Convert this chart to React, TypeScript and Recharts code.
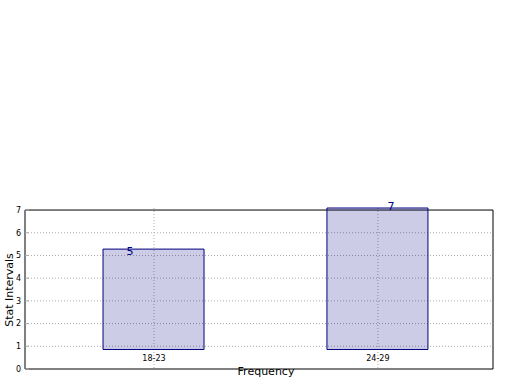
import React from "react";
import { BarChart, Bar, XAxis, YAxis, CartesianGrid, ReferenceArea, ReferenceDot } from "recharts";

const categories = ["18-23", "24-29"];
const barBottoms = [0.86, 0.86];
const barTops = [5.28, 7.09];
const countLabels = [5, 7];
const yTicks = [0, 1, 2, 3, 4, 5, 6, 7];
const xTicks = [0, 1];
const xDomain = [-0.576, 1.514];

// label nudges (px) relative to the category centre
const labelNudge = [-27.5, 9.5];

const data = categories.map((name, i) => ({ pos: i, name, range: [barBottoms[i], barTops[i]] }));

const FONT = "'DejaVu Sans', sans-serif";
const NAVY = "#000080";
const GRID = "#aaa";

const XTick = (props: any) => {
  const { x, y, payload } = props;
  return (
    <text x={x} y={y - 8} textAnchor="middle" fontSize={8} fill="#000" fontFamily={FONT}>
      {categories[payload.value]}
    </text>
  );
};

export default function App() {
  return (
    <div style={{ position: "absolute", left: 0, top: 0, width: 520, height: 390, fontFamily: FONT, background: "#fff" }}>
      <BarChart width={520} height={390} data={data} margin={{ top: 208, right: 27, bottom: 0, left: 0 }}>
        <CartesianGrid
          stroke={GRID}
          strokeDasharray="1 2"
          horizontalValues={yTicks.slice(1, -1)}
          verticalValues={xTicks}
        />
        <XAxis
          dataKey="pos"
          type="number"
          domain={xDomain}
          ticks={xTicks}
          interval={0}
          axisLine={false}
          tickLine={false}
          tickSize={0}
          tickMargin={0}
          height={21}
          tick={XTick}
        />
        <YAxis
          domain={[0, 7.09]}
          ticks={yTicks}
          interval={0}
          width={25}
          axisLine={false}
          tickSize={-4}
          tickMargin={8}
          tickLine={{ stroke: GRID }}
          tick={{ fontSize: 8, fill: "#000", fontFamily: FONT }}
        />
        <YAxis
          yAxisId="right"
          orientation="right"
          domain={[0, 7.09]}
          ticks={yTicks}
          interval={0}
          width={0}
          axisLine={false}
          tickSize={-4}
          tickLine={{ stroke: GRID }}
          tick={false}
        />
        <Bar
          dataKey="range"
          barSize={101}
          fill={NAVY}
          fillOpacity={0.2}
          stroke={NAVY}
          strokeWidth={1}
          isAnimationActive={false}
        />
        <ReferenceArea y1={0} y2={7} fill="none" stroke="#000" strokeWidth={1} ifOverflow="visible" />
        {categories.map((c, i) => (
          <ReferenceDot
            key={c}
            x={i}
            y={countLabels[i]}
            r={0}
            fill="none"
            stroke="none"
            ifOverflow="visible"
            label={(p: any) => (
              <text
                x={p.viewBox.x + labelNudge[i]}
                y={p.viewBox.y}
                textAnchor="start"
                fontSize={11}
                fill={NAVY}
                fontFamily={FONT}
              >
                {countLabels[i]}
              </text>
            )}
          />
        ))}
      </BarChart>
      <div style={{ position: "absolute", left: 266, top: 370.5, width: 0, height: 0 }}>
        <div style={{ position: "absolute", transform: "translate(-50%, -50%)", whiteSpace: "nowrap", fontSize: 11, lineHeight: "11px" }}>
          Frequency
        </div>
      </div>
      <div style={{ position: "absolute", left: 8.5, top: 290, width: 0, height: 0 }}>
        <div style={{ position: "absolute", transform: "translate(-50%, -50%) rotate(-90deg)", whiteSpace: "nowrap", fontSize: 11, lineHeight: "11px" }}>
          Stat Intervals
        </div>
      </div>
    </div>
  );
}
